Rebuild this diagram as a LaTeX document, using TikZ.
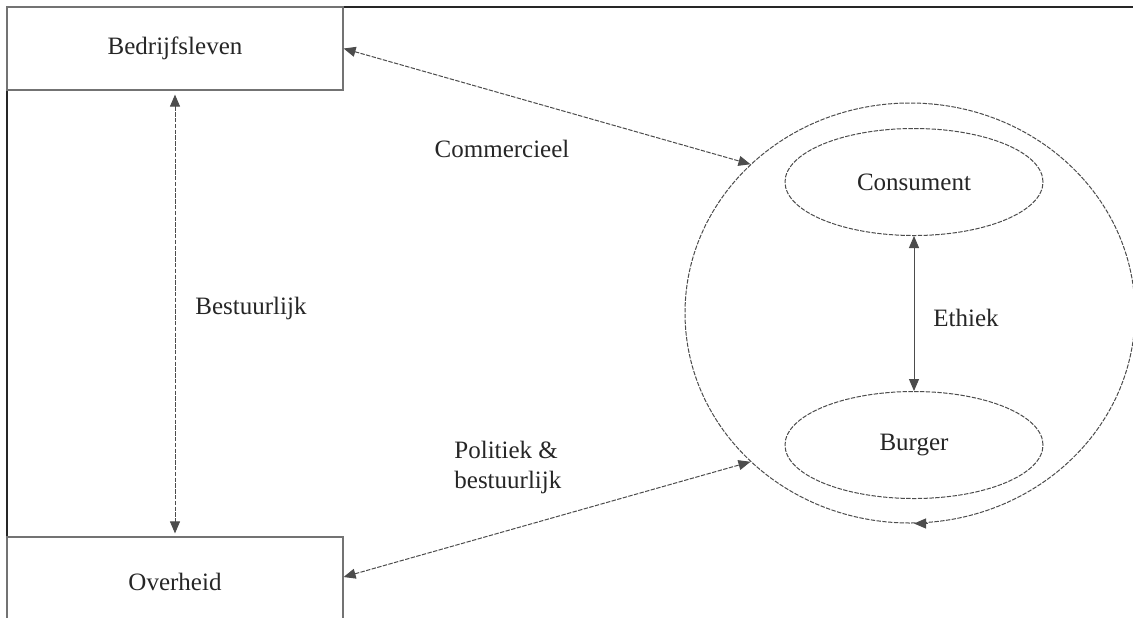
\documentclass[tikz,border=0pt]{standalone}
\usepackage{fontspec}
\setmainfont{Liberation Serif}
\usetikzlibrary{shapes.geometric,arrows.meta,calc}
\begin{document}
\begin{tikzpicture}[x=0.5pt,y=-0.5pt,
  finedash/.style={dash pattern=on 2.2pt off 0.7pt},
  tip/.style={Triangle[length=6pt,width=5pt]},
  lbl/.style={font=\fontsize{12.5}{15}\selectfont, text=black!85, inner sep=0pt},
  boxnode/.style={draw=black!55, line width=0.6pt, rectangle, minimum width=168pt, inner sep=0pt, font=\fontsize{12.5}{15}\selectfont, text=black!85},
  ellnode/.style={draw=black!70, finedash, line width=0.5pt, ellipse, inner sep=0pt, font=\fontsize{12.5}{15}\selectfont, text=black!85},
  conn/.style={draw=black!70, line width=0.5pt, {Triangle[length=6pt,width=5pt]}-{Triangle[length=6pt,width=5pt]}},
  dconn/.style={conn, finedash},
  onearrow/.style={draw=black!70, line width=0.5pt, -{Triangle[length=6pt,width=5pt]}}
]
\useasboundingbox (0,0) rectangle (1133,617);
\clip (0,0) rectangle (1133,617);
\fill[white] (0,0) rectangle (1133,617);
% frame
\coordinate (fbl) at (7,640);
\coordinate (ftl) at (7,7);
\coordinate (ftr) at (1140,7);
\draw[black!85, line width=0.9pt] (fbl) -- (ftl) -- (ftr);
% boxes
\node[boxnode, minimum height=41.5pt] (bed) at (175,48.5) {Bedrijfsleven};
\node[boxnode, minimum height=45pt] (ovh) at (175,582) {Overheid};
% outer circle
\node[ellnode, minimum width=225pt, minimum height=210pt] (outer) at (910,313) {};
% inner ellipses
\node[ellnode, minimum width=129pt, minimum height=53.5pt] (cons) at (914,182) {Consument};
\node[ellnode, minimum width=129pt, minimum height=53.5pt] (burg) at (914,445) {Burger};
% connectors
\draw[dconn, shorten <=2pt, shorten >=1.5pt] (bed.south) -- (ovh.north);
\draw[dconn] (bed.east) -- (outer.137);
\draw[dconn] ($(ovh.east)+(0,-5)$) -- (outer.223);
\draw[conn] (cons.south) -- (burg.north);
\draw[onearrow] ($(outer.south)+(18,0)$) -- ($(outer.south)+(4,0)$);
% labels
\node[lbl] (lbest) at (251,308) {Bestuurlijk};
\node[lbl] (lcom) at (502,149) {Commercieel};
\node[lbl, anchor=west] (leth) at (933,318) {Ethiek};
\node[lbl, align=left, anchor=west] (lpol) at (454,467) {Politiek \&\\bestuurlijk};
\end{tikzpicture}
\end{document}
